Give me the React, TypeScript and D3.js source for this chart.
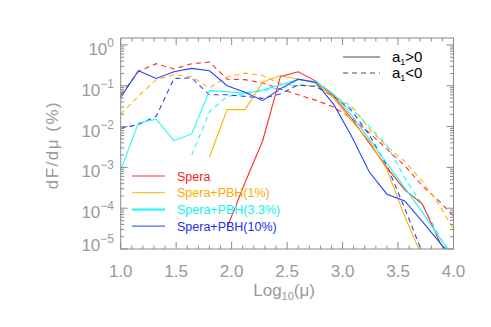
import React from 'react'
import * as d3 from 'd3'

// log10(mu) bin centres shared by all the histograms
const binCentres = [1.0, 1.16, 1.32, 1.48, 1.64, 1.8, 1.96, 2.12, 2.28, 2.44, 2.6, 2.76, 2.92, 3.08, 3.24, 3.4, 3.56, 3.72, 3.88, 4.04]

// dF/dmu (%), a1 > 0 (solid) and a1 < 0 (dashed)
const speraPos = [null, null, null, null, null, null, 3.4e-5, 4.2e-4, 4.5e-3, 0.17, 0.22, 0.13, 0.056, 0.016, 4.0e-3, 1.0e-3, 2.8e-4, 1.26e-4, 1.4e-5, 4e-6]
const speraNeg = [0.06, 0.224, 0.347, 0.257, 0.347, 0.38, 0.145, 0.141, 0.117, 0.083, 0.06, 0.044, 0.03, 0.016, 7.1e-3, 2.8e-3, 1.1e-3, 3.5e-4, 1.4e-4, 5e-5]
const pbh1Pos = [null, null, null, null, null, 1.8e-3, 0.026, 0.026, 0.123, 0.178, 0.145, 0.117, 0.05, 0.014, 4.5e-3, 8.9e-4, 6.3e-5, 6.3e-6, null, null]
const pbh1Neg = [0.02, 0.056, 0.141, 0.186, 0.166, 0.089, 0.166, 0.204, 0.178, 0.112, 0.1, 0.1, 0.056, 0.032, 8.9e-3, 3.2e-3, 1.4e-3, 4.5e-4, 1.1e-4, 2.0e-5]
const pbh33Pos = [8.7e-4, 0.0123, 0.0151, 4.5e-3, 6.6e-3, 0.076, 0.071, 0.066, 0.079, 0.105, 0.141, 0.126, 0.063, 0.019, 5.0e-3, 1.26e-3, 3.2e-4, 7.9e-5, 1.8e-5, 5e-6]
const pbh33Neg = [null, null, null, null, 2.0e-3, 0.023, 0.055, 0.063, 0.076, 0.089, 0.105, 0.095, 0.056, 0.028, 0.01, 3.5e-3, 5.6e-4, 1.2e-4, 1.9e-5, 3e-6]
const pbh10Pos = [0.052, 0.233, 0.151, 0.22, 0.266, 0.233, 0.1, 0.069, 0.043, 0.085, 0.145, 0.12, 0.035, 5.9e-3, 7.8e-4, 2.2e-4, 1.5e-4, 4.7e-5, 1.4e-5, 4e-6]
const pbh10Neg = [9.1e-3, 0.0112, 0.0178, 0.151, 0.155, 0.06, 0.06, 0.055, 0.049, 0.063, 0.105, 0.095, 0.054, 0.025, 6.3e-3, 1.1e-3, 1.0e-4, 8e-6, null, null]

const seriesNames = ['Spera', 'Spera+PBH(1%)', 'Spera+PBH(3.3%)', 'Spera+PBH(10%)']
const seriesColors = ['#ff2b2b', '#ffb300', '#1cf8f8', '#2446ff']
const textColors = ['#ff1a1a', '#ffaa00', '#10f0f0', '#1a2ef0']
const posSeries = [speraPos, pbh1Pos, pbh33Pos, pbh10Pos]
const negSeries = [speraNeg, pbh1Neg, pbh33Neg, pbh10Neg]

const xTickValues = [1.0, 1.5, 2.0, 2.5, 3.0, 3.5, 4.0]
const yDecades = [0, -1, -2, -3, -4, -5]
const signLabels = ['a', '>0', '<0']

const W = 491
const H = 327
const left = 120.7
const right = 453.5
const top = 38
const bottom = 249
const axisGray = '#8a8a8a'
const labelGray = '#9a9a9a'
const font = 'Liberation Sans, Arial, sans-serif'

export default function App() {
  const x = d3.scaleLinear().domain([1, 4]).range([left, right])
  const y = d3.scaleLog().domain([1e-5, Math.pow(10, 0.17)]).range([bottom, top])

  const line = d3.line<[number, number | null]>()
    .defined(d => d[1] != null)
    .x(d => x(d[0]))
    .y(d => y(d[1] as number))

  const xMinor = d3.range(10, 41).map(v => v / 10)
  const yMinor: number[] = []
  for (let d = -5; d <= 0; d++) {
    for (let m = 1; m <= 9; m++) {
      const v = m * Math.pow(10, d)
      if (v <= y.domain()[1]) yMinor.push(v)
    }
  }
  const isMajorX = (v: number) => Math.abs(v * 2 - Math.round(v * 2)) < 1e-6
  const isMajorY = (v: number) => Math.abs(Math.log10(v) - Math.round(Math.log10(v))) < 1e-6

  const majorLen = 7
  const minorLen = 3.5

  return (
    <div style={{ position: 'absolute', left: 0, top: 0 }}>
      <svg width={W} height={H} style={{ display: 'block', background: '#fff' }}>
        <defs>
          <clipPath id="plotClip">
            <rect x={left} y={top} width={right - left} height={bottom - top} />
          </clipPath>
        </defs>

        {/* data */}
        <g clipPath="url(#plotClip)" fill="none" strokeWidth={1.1}>
          {negSeries.map((s, i) => (
            <path key={'n' + i} d={line(binCentres.map((b, j) => [b, s[j]]) as any) || ''}
              stroke={seriesColors[i]} strokeDasharray="5,4" />
          ))}
          {posSeries.map((s, i) => (
            <path key={'p' + i} d={line(binCentres.map((b, j) => [b, s[j]]) as any) || ''}
              stroke={seriesColors[i]} />
          ))}
        </g>

        {/* box */}
        <rect x={left} y={top} width={right - left} height={bottom - top} fill="none" stroke={axisGray} strokeWidth={1} />

        {/* x ticks bottom & top */}
        {xMinor.map(v => {
          const len = isMajorX(v) ? majorLen : minorLen
          return (
            <g key={'xt' + v} stroke={axisGray} strokeWidth={1}>
              <line x1={x(v)} x2={x(v)} y1={bottom} y2={bottom - len} />
              <line x1={x(v)} x2={x(v)} y1={top} y2={top + len} />
            </g>
          )
        })}
        {/* y ticks left & right */}
        {yMinor.map(v => {
          const len = isMajorY(v) ? majorLen : minorLen
          return (
            <g key={'yt' + v} stroke={axisGray} strokeWidth={1}>
              <line x1={left} x2={left + len} y1={y(v)} y2={y(v)} />
              <line x1={right} x2={right - len} y1={y(v)} y2={y(v)} />
            </g>
          )
        })}

        {/* x tick labels */}
        {xTickValues.map(v => (
          <text key={'xl' + v} x={x(v)} y={277} textAnchor="middle" fontFamily={font} fontSize={17} fill={labelGray}>
            {v.toFixed(1)}
          </text>
        ))}
        {/* y tick labels */}
        {yDecades.map(d => (
          <text key={'yl' + d} x={114} y={Math.min(y(Math.pow(10, d)) + 10, bottom + 2)} textAnchor="end"
            fontFamily={font} fontSize={17} fill={labelGray}>
            10<tspan dy={-8} fontSize={12}>{d === 0 ? '0' : '\u2212' + (-d)}</tspan>
          </text>
        ))}

        {/* axis titles */}
        <text x={(left + right) / 2 - 3} y={296} textAnchor="middle" fontFamily={font} fontSize={17} fill={labelGray}>
          Log<tspan dy={4} fontSize={11}>10</tspan><tspan dy={-4}>(μ)</tspan>
        </text>
        <text transform="translate(58,145) rotate(-90)" textAnchor="middle" fontFamily={font} fontSize={17}
          fill={labelGray} letterSpacing={1.5}>
          dF/dμ (%)
        </text>

        {/* sign legend */}
        <g fontFamily={font} fontSize={15} fill="#000">
          <line x1={343} x2={380} y1={57} y2={57} stroke="#8a8a8a" strokeWidth={1.5} />
          <text x={392} y={62}>{signLabels[0]}<tspan dy={3} fontSize={9}>1</tspan><tspan dy={-3}>{signLabels[1]}</tspan></text>
          <line x1={343} x2={380} y1={73} y2={73} stroke="#8a8a8a" strokeWidth={1.5} strokeDasharray="5,4" />
          <text x={392} y={78}>{signLabels[0]}<tspan dy={3} fontSize={9}>1</tspan><tspan dy={-3}>{signLabels[2]}</tspan></text>
        </g>

        {/* model legend */}
        {seriesNames.map((name, i) => (
          <g key={'lg' + i}>
            <line x1={132} x2={165} y1={176 + i * 16.7} y2={176 + i * 16.7} stroke={seriesColors[i]}
              strokeWidth={i === 2 ? 2 : 1} />
            <text x={177} y={180.5 + i * 16.7} fontFamily={font} fontSize={12.5} fill={textColors[i]}>{name}</text>
          </g>
        ))}
      </svg>
    </div>
  )
}
